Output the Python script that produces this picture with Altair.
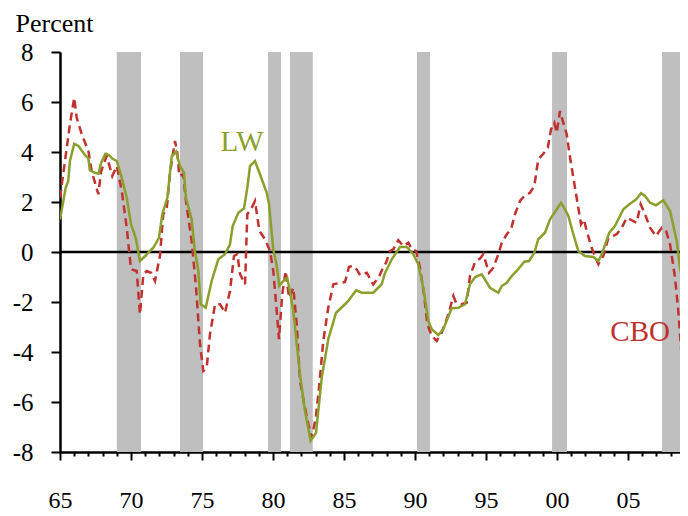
import altair as alt
import pandas as pd

# ---- data ----
lw_year = [1965.0, 1965.4, 1965.58, 1965.7, 1966.0, 1966.3, 1966.75, 1967.0, 1967.1, 1967.45, 1967.7, 1967.9,
           1968.2, 1968.45, 1968.7, 1969.0, 1969.35, 1969.7, 1970.0, 1970.33, 1970.63, 1971.0, 1971.57,
           1971.97, 1972.2, 1972.56, 1972.87, 1973.17, 1973.45, 1973.73, 1973.87, 1974.27, 1974.5, 1974.74,
           1974.91, 1975.26, 1975.68, 1976.15, 1976.62, 1976.97, 1977.16, 1977.56, 1977.96, 1978.19,
           1978.38, 1978.73, 1979.08, 1979.56, 1979.72, 1980.02, 1980.25, 1980.44, 1980.73, 1981.0,
           1981.2, 1981.43, 1981.9, 1982.25, 1982.65, 1983.03, 1983.43, 1983.89, 1984.44, 1985.07, 1985.3,
           1985.85, 1986.25, 1987.06, 1987.65, 1987.89, 1988.1, 1988.36, 1988.94, 1989.42, 1989.88,
           1990.23, 1990.58, 1990.94, 1991.18, 1991.64, 1991.99, 1992.58, 1993.05, 1993.52, 1993.87,
           1994.23, 1994.7, 1995.28, 1995.87, 1996.11, 1996.46, 1996.81, 1997.16, 1997.7, 1998.03, 1998.4,
           1998.68, 1999.15, 1999.51, 1999.98, 2000.28, 2000.56, 2000.8, 2001.15, 2001.5, 2001.97, 2002.56,
           2002.91, 2003.15, 2003.68, 2004.08, 2004.67, 2005.14, 2005.56, 2005.92, 2006.2, 2006.55,
           2006.97, 2007.49, 2007.96, 2008.43, 2008.66, 2008.89, 2009.2]
lw_val = [1.3, 2.57, 2.84, 3.64, 4.33, 4.24, 3.88, 3.75, 3.27, 3.17, 3.13, 3.57,
          3.93, 3.88, 3.73, 3.64, 2.97, 2.17, 1.11, 0.57, -0.36, -0.16, 0.17,
          0.57, 1.5, 2.17, 3.84, 4.01, 3.44, 3.17, 2.17, 1.31, 0.04, -0.76,
          -2.09, -2.23, -1.16, -0.29, -0.09, 0.31, 1.04, 1.57, 1.75, 2.57,
          3.44, 3.64, 3.11, 2.37, 1.91, 0.1, -0.5, -1.36, -1.16, -1.03,
          -1.6, -2.36, -4.89, -6.36, -7.55, -7.23, -5.03, -3.49, -2.43, -2.09, -1.96,
          -1.53, -1.63, -1.63, -1.29, -0.83, -0.6, -0.29, 0.2, 0.2, -0.09,
          -0.49, -1.43, -2.76, -3.09, -3.32, -3.09, -2.25, -2.23, -2.09, -1.29,
          -1.0, -0.89, -1.43, -1.63, -1.36, -1.23, -0.96, -0.76, -0.39, -0.36, -0.03,
          0.51, 0.77, 1.31, 1.71, 1.97, 1.71, 1.44, 0.71, 0.04, -0.16, -0.2,
          -0.36, -0.09, 0.77, 1.04, 1.71, 1.93, 2.1, 2.35, 2.24, 1.97,
          1.87, 2.07, 1.64, 0.44, -0.63, -1.29, -2.3]

cbo_year = [1965.0, 1965.35, 1965.7, 1966.0, 1966.18, 1966.53, 1967.0, 1967.23, 1967.7, 1967.9, 1968.29,
            1968.68, 1969.0, 1969.35, 1969.7, 1970.0, 1970.4, 1970.63, 1970.87, 1971.11, 1971.41, 1971.69,
            1972.04, 1972.27, 1972.51, 1972.75, 1973.1, 1973.26, 1973.4, 1973.68, 1973.87, 1974.27, 1974.58,
            1974.86, 1975.09, 1975.33, 1975.56, 1975.92, 1976.27, 1976.62, 1976.97, 1977.25, 1977.49,
            1977.68, 1978.03, 1978.19, 1978.5, 1978.73, 1979.04, 1979.44, 1979.79, 1980.02, 1980.26,
            1980.42, 1980.65, 1980.89, 1981.13, 1981.43, 1981.67, 1981.9, 1982.2, 1982.49, 1982.73,
            1983.01, 1983.24, 1983.54, 1983.89, 1984.25, 1984.6, 1985.07, 1985.35, 1985.6, 1985.9,
            1986.13, 1986.6, 1987.06, 1987.49, 1987.77, 1987.96, 1988.24, 1988.47, 1988.82, 1989.18,
            1989.53, 1989.77, 1990.07, 1990.35, 1990.63, 1990.87, 1991.18, 1991.53, 1991.88, 1992.35,
            1992.7, 1992.89, 1993.29, 1993.64, 1993.87, 1994.23, 1994.58, 1994.81, 1995.21, 1995.51,
            1995.87, 1996.11, 1996.46, 1996.76, 1997.04, 1997.39, 1997.7, 1998.1, 1998.4, 1998.68,
            1999.04, 1999.35, 1999.58, 1999.81, 1999.98, 2000.21, 2000.37, 2000.68, 2000.92, 2001.15,
            2001.5, 2001.69, 2001.9, 2002.09, 2002.44, 2002.91, 2003.26, 2003.61, 2004.2, 2004.56,
            2004.91, 2005.26, 2005.61, 2005.89, 2006.2, 2006.55, 2006.97, 2007.37, 2007.68, 2007.96,
            2008.31, 2008.54, 2008.78, 2009.01, 2009.2]
cbo_val = [2.17, 3.64, 5.11, 6.17, 5.37, 4.71, 4.04, 3.24, 2.31, 3.24, 3.84,
           3.04, 3.44, 2.44, 0.97, -0.69, -0.76, -2.49, -0.89, -0.76, -0.83, -1.16,
           -0.15, 1.51, 1.71, 3.17, 4.44, 3.97, 3.04, 3.11, 2.04, 0.44, -1.43,
           -3.69, -4.76, -4.63, -3.29, -2.09, -2.09, -2.43, -1.56, -0.16, -0.09,
           -0.89, -1.29, 1.51, 1.77, 2.04, 0.84, 0.51, 0.04, -0.76, -2.36,
           -3.49, -1.69, -0.76, -1.83, -1.43, -2.89, -5.16, -6.09, -6.89, -7.43,
           -6.63, -5.43, -3.56, -2.23, -1.29, -1.25, -1.2, -0.6, -0.55, -0.7,
           -0.93, -0.83, -1.3, -0.96, -0.6, -0.43, 0.04, 0.11, 0.47, 0.24,
           0.37, 0.11, 0.04, -0.63, -1.69, -2.89, -3.36, -3.56, -3.23, -2.49,
           -1.76, -2.03, -2.09, -2.03, -0.96, -0.4, -0.26, -0.09, -0.83, -0.63,
           -0.09, 0.37, 0.71, 0.91, 1.51, 2.04, 2.24, 2.37, 2.64, 3.71,
           3.93, 4.17, 4.91, 5.17, 4.77, 5.64, 5.31, 4.71, 3.77, 2.97,
           1.77, 1.11, 1.3, 0.84, 0.17, -0.49, -0.16, 0.55, 0.71, 0.97,
           1.37, 1.27, 1.17, 1.91, 1.51, 0.97, 0.64, 0.97, 0.84, 0.31,
           -1.03, -2.36, -4.23, -5.56, -6.29]

rec_start = [1969.0, 1973.45, 1979.65, 1981.2, 1990.14, 1999.65, 2007.39]
rec_end = [1970.7, 1975.07, 1980.56, 1982.8, 1991.06, 2000.7, 2008.94]

year_ticks = list(range(1965, 2009))
y_ticks = [-8, -6, -4, -2, 0, 2, 4, 6, 8]

label_names = ["LW", "CBO"]
label_years = [1977.82, 2005.85]
label_values = [4.4, -3.2]

GREEN = "#8A9F2C"
RED = "#C0312F"
FONT = "Liberation Serif"

lw_df = pd.DataFrame({"year": lw_year, "value": lw_val})
cbo_df = pd.DataFrame({"year": cbo_year, "value": cbo_val})
rec_df = pd.DataFrame({"start": rec_start, "end": rec_end})
labels_df = pd.DataFrame({"year": label_years, "value": label_values, "name": label_names})
zero_df = pd.DataFrame({"value": [0]})

x_scale = alt.Scale(domain=[1965, 2008.66], nice=False, zero=False)
y_scale = alt.Scale(domain=[-8, 8], nice=False, zero=False)

x_axis = alt.Axis(
    values=year_ticks,
    labelExpr="datum.value % 5 === 0 ? ((datum.value % 100) < 10 ? '0' + (datum.value % 100) : '' + (datum.value % 100)) : ''",
    tickSize={"condition": {"test": "datum.value % 5 === 0", "value": 8}, "value": 4},
    labelOverlap=False,
    labelFlush=False,
    labelBound=False,
    labelFontSize=24,
    labelPadding=28,
    labelFont=FONT,
    labelColor="black",
    domainColor="black",
    domainWidth=2.5,
    tickColor="black",
    tickWidth=2,
    grid=False,
    title=None,
)
y_axis = alt.Axis(
    values=y_ticks,
    labelExpr="datum.value",
    tickSize=9,
    labelFontSize=25,
    labelPadding=18,
    labelFont=FONT,
    labelColor="black",
    labelOverlap=False,
    domainColor="black",
    domainWidth=2.5,
    tickColor="black",
    tickWidth=2,
    grid=False,
    title="Percent",
    titleAngle=0,
    titleAlign="left",
    titleBaseline="alphabetic",
    titleX=-45,
    titleY=-21,
    titleFont=FONT,
    titleFontSize=26,
    titleFontWeight="normal",
    titleColor="black",
)


def X(field):
    return alt.X(field, type="quantitative", scale=x_scale, axis=x_axis)


def Y(field):
    return alt.Y(field, type="quantitative", scale=y_scale, axis=y_axis)


shade = alt.Chart(rec_df).mark_rect(color="#BFBFBF", clip=True).encode(
    x=X("start"),
    x2="end:Q",
    y=alt.Y(datum=8, type="quantitative", scale=y_scale, axis=y_axis),
    y2=alt.datum(-8),
)

zero = alt.Chart(zero_df).mark_rule(color="black", strokeWidth=2.5).encode(y=Y("value"))

cbo_line = alt.Chart(cbo_df).mark_line(color=RED, strokeWidth=2.5, strokeDash=[8, 5], clip=True).encode(
    x=X("year"), y=Y("value")
)
lw_line = alt.Chart(lw_df).mark_line(color=GREEN, strokeWidth=2.5, clip=True).encode(
    x=X("year"), y=Y("value")
)

labels = alt.Chart(labels_df).mark_text(font=FONT, fontSize=29, align="center", baseline="middle").encode(
    x=X("year"),
    y=Y("value"),
    text="name:N",
    color=alt.Color("name:N", scale=alt.Scale(domain=label_names, range=[GREEN, RED]), legend=None),
)

chart = alt.layer(shade, zero, cbo_line, lw_line, labels).properties(
    width=620,
    height=400,
    background="white",
    autosize=alt.AutoSizeParams(type="none"),
    padding={"left": 52, "top": 44, "right": 0, "bottom": 64},
).configure_view(stroke=None)

chart.save("out.html", embed_options={"renderer": "svg", "actions": False})
